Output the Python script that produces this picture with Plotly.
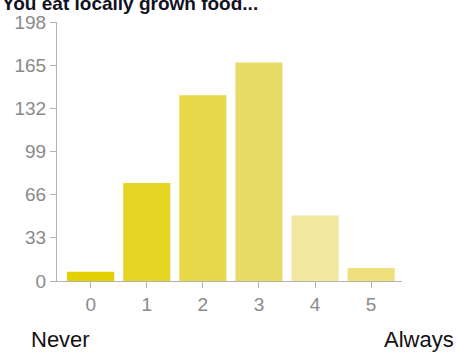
import plotly.graph_objects as go

# Survey responses: frequency of eating locally grown food (0 = never, 5 = always)
categories = ["0", "1", "2", "3", "4", "5"]
counts = [7, 75, 142, 167, 50, 10]
bar_colors = ["#e2d000", "#e5d524", "#e8d84a", "#e9dc66", "#f1e99e", "#eee07c"]
y_ticks = [0, 33, 66, 99, 132, 165, 198]

W, H = 457, 354
L, R, T, B = 57, 55, 20, 73
plot_w = W - L - R
plot_h = H - T - B

FONT = "Liberation Sans, Arial, sans-serif"
AXIS_GRAY = "#b3b3b3"
LABEL_GRAY = "#8a8a8a"

fig = go.Figure(
    go.Bar(
        x=list(range(len(categories))),
        y=counts,
        marker=dict(color=bar_colors, line=dict(width=0)),
        hoverinfo="skip",
    )
)

fig.update_layout(
    width=W,
    height=H,
    margin=dict(l=L, r=R, t=T, b=B, pad=0),
    paper_bgcolor="white",
    plot_bgcolor="white",
    bargap=0.16,
    showlegend=False,
    font=dict(family=FONT),
)

fig.update_xaxes(
    range=[-0.6, 5.55],
    tickmode="array",
    tickvals=list(range(len(categories))),
    ticktext=categories,
    showgrid=False,
    zeroline=False,
    showline=True,
    linecolor=AXIS_GRAY,
    linewidth=1,
    ticks="outside",
    ticklen=6,
    tickcolor=AXIS_GRAY,
    tickfont=dict(size=19, color=LABEL_GRAY, family=FONT),
)

fig.update_yaxes(
    range=[0, 198],
    tickmode="array",
    tickvals=y_ticks,
    ticktext=[str(v) for v in y_ticks],
    showgrid=False,
    zeroline=False,
    showline=True,
    linecolor=AXIS_GRAY,
    linewidth=1,
    ticks="outside",
    ticklen=6,
    tickcolor=AXIS_GRAY,
    tickfont=dict(size=19, color=LABEL_GRAY, family=FONT),
)

# Title, partially clipped at the top edge
fig.add_annotation(
    text="<b>You eat locally grown food...</b>",
    xref="paper", yref="paper",
    x=(0 - L) / plot_w, y=1 + (T - 1.2) / plot_h,
    xanchor="left", yanchor="middle",
    showarrow=False,
    font=dict(size=19, color="#111122", family=FONT),
)

# Scale end labels
end_y = -(340 - (T + plot_h)) / plot_h
fig.add_annotation(
    text="Never",
    xref="paper", yref="paper",
    x=(29 - L) / plot_w, y=end_y,
    xanchor="left", yanchor="middle",
    showarrow=False,
    font=dict(size=22, color="#111111", family=FONT),
)
fig.add_annotation(
    text="Always",
    xref="paper", yref="paper",
    x=(456 - L) / plot_w, y=end_y,
    xanchor="right", yanchor="middle",
    showarrow=False,
    font=dict(size=22, color="#111111", family=FONT),
)

fig.write_html("out.html")
